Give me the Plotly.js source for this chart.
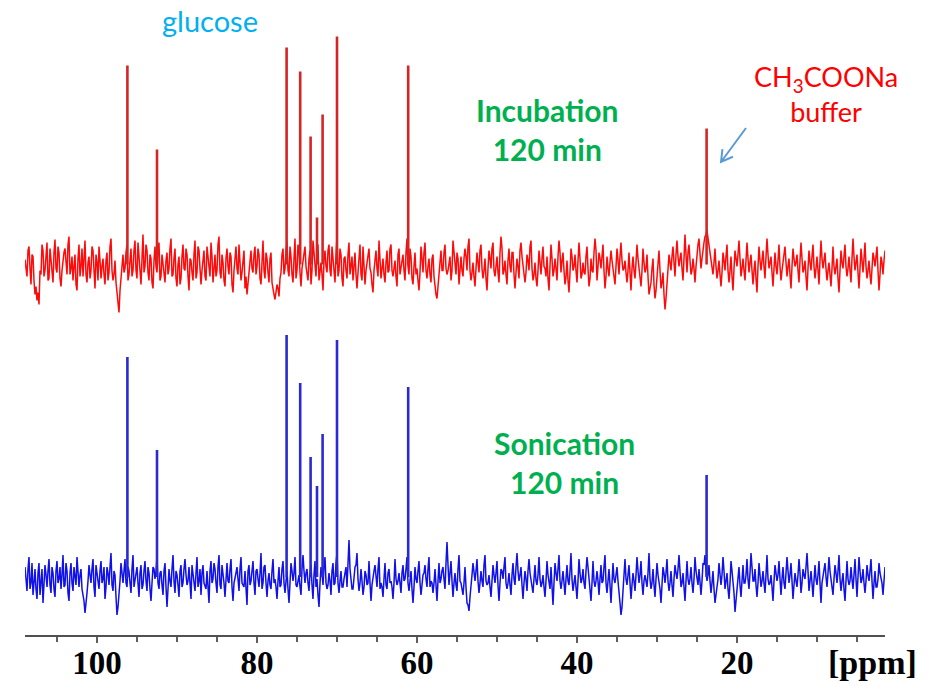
<!DOCTYPE html>
<html>
<head>
<meta charset="utf-8">
<script src="https://cdn.plot.ly/plotly-3.0.1.min.js"></script>
<style>html,body{margin:0;padding:0;background:#fff;}#chart{width:945px;height:686px;}</style>
</head>
<body>
<div id="chart"></div>
<script>
// sampled chemical-shift grid (ppm), high to low; "Mid" arrays sit half a step after each sample
const ppmStart = 109.0;
const ppmStep = 0.25;

// baseline noise, incubation (red) spectrum
const redNoise = [
5,-12,18,-20,8,-30,-36,-40,-10,14,-6,22,-14,6,-18,25,-8,12,-22,4,
16,-10,28,-4,-16,10,-26,20,-2,-12,24,-18,8,-6,14,-24,2,18,-14,6,
-20,12,-8,26,-16,4,-30,-48,-12,10,-4,20,-10,16,-6,24,-14,8,-20,30,
-2,14,-16,6,-24,18,-8,22,-12,2,-18,12,-4,26,-10,16,-22,8,-14,20,
-6,10,-26,4,-16,24,-8,14,-20,6,-12,18,-2,22,-18,10,-6,28,-14,2,
-22,16,-10,8,-28,12,-4,20,-16,6,-24,-30,-12,14,-8,18,-2,10,-20,24,
-14,6,-18,12,-26,-35,-20,-32,-8,16,-4,22,-12,8,-18,26,-6,14,-22,4,
18,-10,6,-20,24,-4,12,-16,2,-26,14,-8,20,-12,4,-18,28,-6,10,-22,
8,-14,22,-2,-16,12,-24,6,-10,18,-20,2,16,-8,-28,10,-4,24,-14,6,
-18,14,-6,20,-12,4,-22,16,-2,10,-16,26,-10,8,-20,12,-4,-26,18,-8,
22,-14,6,-18,10,-24,-34,-12,14,-6,20,-10,4,-16,24,-2,12,-20,8,-12,
16,-6,26,-16,2,-22,12,-8,20,-14,6,-26,14,-4,22,-12,8,-18,28,-10,
4,-20,16,-8,12,-24,6,-14,22,-2,-18,10,-6,24,-16,2,-22,14,-10,18,
-4,8,-26,20,-12,6,-16,24,-8,12,-20,4,-28,16,-6,10,-18,22,-14,2,
-10,18,-22,6,-8,26,-16,12,-4,20,-24,8,-12,14,-2,-20,16,-10,22,-6,
4,-18,12,-26,8,-14,20,-4,-22,16,-8,10,-30,-18,6,-34,-12,14,-24,-8,
-45,-20,10,-6,18,-12,24,-2,12,-16,30,-8,20,-10,6,-18,14,26,-4,16,
28,34,20,8,-10,16,-14,4,-22,12,-6,20,-18,8,-26,14,-2,24,-12,6,
-16,22,-8,10,-20,4,-28,18,-6,14,-14,26,-4,8,-22,12,-10,20,-16,2,
18,-12,6,-24,16,-2,10,-18,22,-8,4,-26,14,-6,20,-14,8,-20,24,-4,
12,-16,2,-22,18,-10,6,-28,14,-4,20,-12,8,-18,26,-6,10,-24,16,-8,
22,-14,4,-20,12,-2,18,-26,8,-10,14
];
const redNoiseMid = [
-8,14,-4,10,-16,-22,-28,-6,20,-12,8,-16,16,-10,12,-4,18,-14,-6,12,
-4,20,-10,8,-2,-20,6,-12,16,6,-10,2,-14,18,-6,10,-16,4,-2,-10,
4,-16,18,-6,-10,-18,-40,-26,6,-8,12,-16,4,-12,14,-6,22,-10,6,-8,
20,-8,10,-18,4,-2,14,-16,10,-6,4,-10,16,-12,6,-14,0,-20,8,-4,
16,-12,6,-8,10,-14,18,-4,-6,14,-16,6,-12,8,-2,-12,20,-8,10,-16,
6,-2,12,-20,-6,18,-10,4,-8,14,-12,-18,6,-4,10,-10,16,-14,2,-6,
12,-8,6,-18,-30,-28,-24,-14,10,-10,14,-6,18,-10,6,-14,20,-8,-4,12,
-2,-16,14,-6,8,-12,20,-8,-10,4,-2,14,-6,18,-8,10,-12,16,-14,6,
-6,10,-10,8,-4,-10,-8,20,-16,4,-6,12,-4,-20,-6,14,-12,8,-4,-10,
2,-8,16,-6,-4,-12,10,-10,8,-6,12,-2,16,-14,-2,-10,-16,-8,6,12,
-6,-2,-10,6,-12,-30,-22,2,-6,12,-4,-6,8,-6,12,-10,6,-8,-6,6,
8,18,-6,-8,-12,-4,2,14,-4,-6,-14,-4,6,16,-6,-2,-8,12,16,-6,
-10,4,-2,12,-10,-8,-2,14,8,-12,-8,4,18,-4,-10,-14,-6,2,6,-2,
-12,-14,-2,6,-6,-4,8,12,4,-6,-12,-16,-8,8,-2,-6,4,6,-10,-8,
8,-4,-14,-6,12,14,-2,6,8,-6,-12,-4,2,4,-12,-6,4,8,4,-4,
-8,-6,-8,-4,-6,2,6,-14,-6,2,-4,-12,-24,-4,-20,-26,4,-6,-18,-30,
-34,-6,2,8,2,10,8,6,-4,6,10,12,4,-6,-4,-2,20,10,6,22,
30,26,14,-2,2,-2,-6,-10,-8,4,8,-6,-6,-12,-4,6,10,6,-4,-6,
4,6,2,-6,-6,-14,-2,4,4,-2,8,10,2,-8,-4,-2,4,-2,-6,10,
2,-2,-10,-2,6,2,-6,4,6,-4,-12,-4,2,8,-2,-4,-6,4,6,4,
-4,-6,-10,-4,-2,-2,-14,-6,2,8,-2,-4,-6,6,8,2,-8,-4,4,6,
-2,-6,-10,-4,6,8,-6,-10,2,4
];

// baseline noise, sonication (blue) spectrum
const blueNoise = [
10,-14,20,-6,-18,8,-22,14,-4,-26,12,-10,18,-16,4,-20,16,-2,-12,22,
-8,6,-24,14,-14,2,20,-10,8,-18,-36,-16,12,-6,18,-20,4,-12,16,-2,
-22,10,-8,24,-14,2,-38,-20,14,-6,18,-10,6,-16,22,-4,10,-20,12,-8,
16,-14,4,-24,10,-2,20,-12,6,-18,14,-30,8,-10,22,-16,2,-20,12,-6,
18,-8,10,-22,4,-14,20,-4,-18,12,-10,6,-26,16,-2,8,-16,22,-12,4,
-20,14,-6,18,-24,2,10,-14,20,-8,6,-28,12,-4,16,-18,8,-10,24,-6,
12,-20,4,-12,18,-2,-22,10,-8,16,-16,6,-26,14,-4,20,-10,2,-18,22,
-6,8,-14,12,-22,16,-2,-30,10,-8,20,-12,4,-18,14,-6,24,-16,6,-10,
4,-10,37,-6,-12,10,24,-14,8,-18,6,-8,16,-24,2,12,-10,20,-6,-20,
14,-12,8,-4,-22,18,-8,4,-16,12,-2,20,-14,6,-26,10,-6,16,-18,2,
12,-10,20,-4,-16,8,-24,14,-2,10,-12,35,-8,16,-20,4,-14,22,-6,-18,
10,-26,-34,-12,14,-4,18,-16,6,-10,22,-8,2,-20,12,-6,16,-24,8,-2,
20,-12,4,-18,14,-8,24,-4,10,-22,6,-14,18,-2,-16,12,-8,20,-10,2,
-20,16,-6,10,-28,14,-4,22,-12,6,-18,12,-8,24,-14,2,-22,18,-6,8,
-12,20,-2,-24,16,-10,6,-18,12,-4,22,-16,8,-26,14,-6,10,-20,-38,-14,
18,-8,12,-22,4,-14,20,-6,16,-18,2,-10,24,-12,8,-20,14,-4,-26,10,
-6,18,-14,6,-20,12,-2,22,-10,4,-24,16,-8,10,-16,20,-4,8,-18,14,
22,-4,12,-16,6,-26,-10,14,-8,20,-12,4,-22,16,-2,-35,-14,10,-20,12,
-6,18,-12,24,-4,8,-20,14,-10,6,-16,22,-8,2,-24,12,-4,16,-18,10,
-12,20,-6,14,-22,4,-10,18,-16,8,-2,24,-14,6,-20,12,-8,16,-26,2,
14,-10,20,-4,-18,12,-6,22,-14,4,-24,16,-8,10,-12,18,-20,20,-6,8,
-16,12,-4,18,-22,6,-10,14,-2,-18,10
];
const blueNoiseMid = [
-4,8,-12,14,-6,-12,4,-18,8,-12,2,6,-8,10,-12,6,-6,10,2,-10,
14,-16,4,-6,10,-8,6,2,-12,-24,-28,-4,2,8,-10,12,-8,6,-6,10,
-10,4,10,-8,6,-20,-30,-4,2,6,-6,10,-6,8,-10,6,-6,4,-12,6,
-4,10,-12,-6,8,6,-6,4,-8,6,-10,-12,-4,8,-4,6,-8,6,-10,8,
2,-4,-6,12,-6,4,-10,8,4,-6,-12,-8,6,-6,14,-6,10,-8,12,-6,
-2,-4,8,-10,-6,4,-4,8,-6,-10,-8,6,-8,6,-6,6,-2,4,-12,10,
-6,-4,-8,6,-6,-10,-4,-10,8,-6,-4,-12,-6,6,4,-8,-4,-10,8,6,
4,-6,4,-8,2,-10,-18,-6,4,10,-6,-8,-4,6,-8,14,-6,-4,-10,-2,
10,20,8,-12,2,12,-2,-6,-4,-10,2,-6,-6,-8,6,-4,8,-12,-10,-2,
-8,4,-6,-10,-6,-2,-4,-6,4,-4,8,-6,-4,-12,-10,-2,6,-6,-8,4,
-2,8,-10,-6,-6,-8,-4,-6,6,-2,14,12,4,-4,-6,-8,8,-4,-12,-6,
-10,-28,-20,2,2,6,-4,-6,-4,12,-4,-6,-10,-4,2,4,-8,-6,6,10,
-6,-6,-8,2,-2,10,6,2,-8,-6,-2,6,4,-10,-2,-4,2,-2,-6,-10,
-4,2,-12,-10,-6,4,8,-4,-4,-6,-2,-4,6,-2,-6,-10,-4,4,-2,-6,
6,10,-12,-6,-4,-4,-4,-2,-6,10,-6,-4,-8,-6,-2,2,-4,-26,-30,0,
-2,2,-6,-8,-4,2,6,2,-6,-4,-4,4,-2,-6,-8,-2,2,-12,-8,4,
4,-4,-6,-8,-2,4,8,6,-6,-10,-4,-2,-2,-6,-2,6,-8,-6,-4,12,
6,2,-4,-6,-12,-18,-2,4,2,6,-4,-12,-6,6,-16,-24,-6,-8,-4,-6,
2,-2,4,10,-4,-8,-6,2,-4,-6,2,-2,-6,-10,-4,4,2,-2,-2,-6,
4,6,2,-4,-8,-4,2,4,-6,2,10,6,-4,-6,-4,-2,2,-6,-6,6,
0,4,6,-10,-2,4,6,-2,-4,-12,-4,-2,-4,-2,2,-2,0,6,-2,-6,
-4,2,6,-4,-6,-10,-2,4,-6,-4
];

// resonance positions (ppm) and peak heights above baseline
const peakPpm   = [96.2, 92.5, 76.3, 74.6, 73.3, 72.5, 71.8, 70.0, 61.1, 23.8];
const redPeaks  = [199, 115, 217, 193, 128, 47, 150, 228, 199, 136];
const bluePeaks = [220, 127, 242, 194, 120, 91, 143, 237, 190, 102];

// tick labels
const tickVals = [100, 80, 60, 40, 20];
const tickText = ['100', '80', '60', '40', '20'];

// ---- build traces ----
function spectrum(main, mid) {
  const x = [], y = [];
  main.forEach((v, i) => {
    const p = ppmStart - i * ppmStep;
    x.push(p); y.push(v);
    if (i < mid.length) { x.push(p - ppmStep / 2); y.push(mid[i]); }
  });
  return {x, y};
}
function sticks(heights) {
  const x = [], y = [];
  peakPpm.forEach((p, i) => { x.push(p, p, null); y.push(0, heights[i], null); });
  return {x, y};
}
const rn = spectrum(redNoise, redNoiseMid), bn = spectrum(blueNoise, blueNoiseMid);
const rs = sticks(redPeaks), bs = sticks(bluePeaks);

const traces = [
  {x: bn.x, y: bn.y, type: 'scatter', mode: 'lines', xaxis: 'x', yaxis: 'y',
   line: {color: '#1010e8', width: 1.5}, hoverinfo: 'skip'},
  {x: bs.x, y: bs.y, type: 'scatter', mode: 'lines', xaxis: 'x', yaxis: 'y',
   line: {color: '#2a2ad2', width: 2.6}, hoverinfo: 'skip'},
  {x: rn.x, y: rn.y, type: 'scatter', mode: 'lines', xaxis: 'x', yaxis: 'y2',
   line: {color: '#ff0a0a', width: 1.5}, hoverinfo: 'skip'},
  {x: rs.x, y: rs.y, type: 'scatter', mode: 'lines', xaxis: 'x', yaxis: 'y2',
   line: {color: '#d42424', width: 2.6}, hoverinfo: 'skip'}
];

// ---- layout helpers (pixel -> paper) ----
const W = 945, H = 686, mL = 25, mR = 60, mT = 0, mB = 51;
const pw = W - mL - mR, ph = H - mT - mB;
const px = v => (v - mL) / pw;
const py = v => (H - mB - v) / ph;

// arrow (open V head)
const tail = [746, 128], head = [721, 162];
const dx = head[0] - tail[0], dy = head[1] - tail[1];
const len = Math.hypot(dx, dy), ux = dx / len, uy = dy / len;
const hl = 13, ang = Math.PI / 6;
function rot(x, y, a) { return [x * Math.cos(a) - y * Math.sin(a), x * Math.sin(a) + y * Math.cos(a)]; }
const w1 = rot(-ux, -uy, ang), w2 = rot(-ux, -uy, -ang);
const P = (x, y) => px(x).toFixed(5) + ',' + py(y).toFixed(5);
const arrowPath = 'M' + P(tail[0], tail[1]) + ' L' + P(head[0], head[1]) +
  ' M' + P(head[0] + w1[0] * hl, head[1] + w1[1] * hl) + ' L' + P(head[0], head[1]) +
  ' L' + P(head[0] + w2[0] * hl, head[1] + w2[1] * hl);

const sans = 'Lato, "Open Sans", sans-serif';
const serif = '"Liberation Serif", "Times New Roman", serif';

const layout = {
  width: W, height: H,
  margin: {l: mL, r: mR, t: mT, b: mB, pad: 0},
  paper_bgcolor: '#ffffff', plot_bgcolor: '#ffffff',
  showlegend: false,
  xaxis: {
    range: [109, 1.5], showgrid: false, zeroline: false,
    showline: true, linecolor: '#505050', linewidth: 2,
    ticks: 'outside', ticklen: 6, tickwidth: 1.5, tickcolor: '#606060',
    tickmode: 'array', tickvals: tickVals, ticktext: tickText,
    ticklabelstandoff: -9,
    tickfont: {family: serif, size: 33, color: '#000', weight: 'bold'},
    minor: {dtick: 5, tick0: 0, ticks: 'outside', ticklen: 5, tickwidth: 1.5, tickcolor: '#606060', showgrid: false},
    anchor: 'y', fixedrange: true
  },
  yaxis: {domain: [0, 0.5], range: [-58, 259.5], visible: false, fixedrange: true},
  yaxis2: {domain: [0.5, 1], range: [-53, 264.5], visible: false, fixedrange: true, anchor: 'x'},
  annotations: [
    {xref: 'paper', yref: 'paper', x: px(210), y: py(20), text: 'glucose', showarrow: false,
     xanchor: 'center', yanchor: 'middle', font: {family: sans, size: 29, color: '#00b0f0'}},
    {xref: 'paper', yref: 'paper', x: px(547), y: py(130), text: '<b>Incubation</b><br><b>120 min</b>', showarrow: false,
     xanchor: 'center', yanchor: 'middle', font: {family: sans, size: 30, color: '#00b050'}},
    {xref: 'paper', yref: 'paper', x: px(564), y: py(462), text: '<b>Sonication</b><br><b>120 min</b>', showarrow: false,
     xanchor: 'center', yanchor: 'middle', font: {family: sans, size: 30, color: '#00b050'}},
    {xref: 'paper', yref: 'paper', x: px(826), y: py(94), text: 'CH<sub>3</sub>COONa<br>buffer', showarrow: false,
     xanchor: 'center', yanchor: 'middle', font: {family: sans, size: 27, color: '#ff0000'}},
    {xref: 'paper', yref: 'paper', x: px(872), y: py(662), text: '<b>[ppm]</b>', showarrow: false,
     xanchor: 'center', yanchor: 'middle', font: {family: serif, size: 34, color: '#000'}}
  ],
  shapes: [
    {type: 'path', xref: 'paper', yref: 'paper', path: arrowPath,
     line: {color: '#5b9bd5', width: 2}}
  ]
};

Plotly.newPlot('chart', traces, layout, {displayModeBar: false, staticPlot: true});
</script>
</body>
</html>
